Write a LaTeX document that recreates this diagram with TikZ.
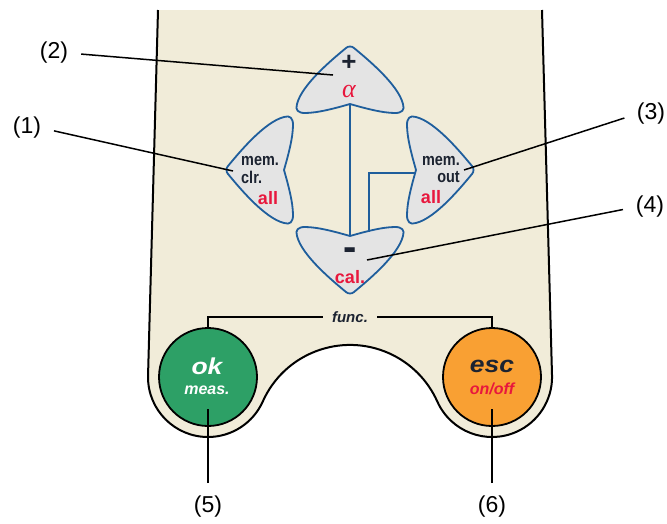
\documentclass[tikz,border=0pt]{standalone}
\usepackage{fontspec}
\setmainfont{Liberation Sans}
\newfontfamily\condfont[FakeStretch=0.85]{Liberation Sans}
\newfontfamily\widefont[FakeStretch=1.15]{Liberation Sans}
\newfontfamily\greekfont{Liberation Serif}

\definecolor{bodybeige}{HTML}{F1ECD9}
\definecolor{keygray}{HTML}{E4E4E4}
\definecolor{keyblue}{HTML}{1F5E9C}
\definecolor{keyink}{HTML}{1C2331}
\definecolor{keyred}{HTML}{E8173D}
\definecolor{okgreen}{HTML}{2DA066}
\definecolor{escorange}{HTML}{F9A033}

\tikzset{
  keycap/.pic={
    \draw[key] (0,66) .. controls (14,62) and (32,57) .. (45,57)
      .. controls (52,57) and (55,60) .. (53,66)
      .. controls (48,86) and (16,112) .. (4,122)
      .. controls (2,124) and (-2,124) .. (-4,122)
      .. controls (-16,112) and (-48,86) .. (-53,66)
      .. controls (-55,60) and (-52,57) .. (-45,57)
      .. controls (-32,57) and (-14,62) .. (0,66) -- cycle;
  }
}

\begin{document}
\begin{tikzpicture}[x=1pt, y=1pt,
    body/.style={draw=black, line width=2pt, fill=bodybeige},
    key/.style={draw=keyblue, line width=1.8pt, fill=keygray},
    wire/.style={draw=keyblue, line width=1.8pt},
    callout/.style={draw=black, line width=1.5pt, shorten <=13pt},
    thinline/.style={draw=black, line width=1.4pt},
    num/.style={font=\fontsize{23}{25}\selectfont, inner sep=0pt},
    btn/.style={circle, draw=black, line width=1.8pt, minimum size=98pt, inner sep=0pt},
    keytxt/.style={font=\condfont\bfseries\fontsize{17}{17}\selectfont, text=keyink, inner sep=0pt},
    redtxt/.style={font=\bfseries\fontsize{18}{18}\selectfont, text=keyred, inner sep=0pt}]
        \useasboundingbox (0,0) rectangle (667,-523);

        % Housing
        \draw[body] (158,-10) -- (148,-377)
            arc[start angle=180, end angle=335.9, radius=60]
            arc[start angle=155.9, end angle=24.1, radius=95.6]
            arc[start angle=204.1, end angle=360, radius=60] -- (542,-10);

        % Arrow keys
        \foreach \ang in {0,90,180,270}
            \pic[rotate=\ang] at (350,-170) {keycap};

        % Key wiring
        \coordinate (topbase) at (350,-104);
        \coordinate (botbase) at (350,-236);
        \coordinate (rightbase) at (415,-173);
        \coordinate (botjoint) at (369,-232);
        \draw[wire] (topbase) -- (botbase);
        \draw[wire] (rightbase) -| (botjoint);

        % Key texts
        \node[font=\bfseries\fontsize{26}{26}\selectfont, text=keyink, inner sep=0pt] (plus) at (349,-63) {+};
        \node[font=\greekfont\itshape\fontsize{26}{26}\selectfont, text=keyred, inner sep=0pt] (alpha) at (349,-91) {α};
        \node[keytxt, anchor=west] (mem1) at (241,-161) {mem.};
        \node[keytxt, anchor=west] (clr) at (241,-177) {clr.};
        \node[redtxt] (allleft) at (268,-198) {all};
        \node[keytxt, anchor=east] (mem2) at (460,-161) {mem.};
        \node[keytxt, anchor=east] (out) at (460,-177) {out};
        \node[redtxt] (allright) at (431,-197) {all};
        \node[font=\bfseries\fontsize{40}{40}\selectfont, text=keyink, inner sep=0pt] (minus) at (350,-254) {-};
        \node[redtxt] (cal) at (350,-277) {cal.};

        % Round buttons
        \node[btn, fill=okgreen] (ok) at (208,-377) {};
        \node[btn, fill=escorange] (esc) at (492,-377) {};
        \node[font=\widefont\bfseries\itshape\fontsize{23}{23}\selectfont, text=white, inner sep=0pt] (oktxt) at (207,-366) {ok};
        \node[font=\bfseries\itshape\fontsize{16}{16}\selectfont, text=white, inner sep=0pt] (meastxt) at (207,-390) {meas.};
        \node[font=\widefont\bfseries\itshape\fontsize{23}{23}\selectfont, text=keyink, inner sep=0pt] (esctxt) at (492,-366) {esc};
        \node[font=\bfseries\itshape\fontsize{16}{16}\selectfont, text=keyred, inner sep=0pt] (onofftxt) at (492,-389) {on/off};

        % func. bracket
        \node[font=\bfseries\itshape\fontsize{15}{15}\selectfont, text=keyink, inner xsep=9pt, inner ysep=0pt] (func) at (350,-317) {func.};
        \draw[thinline] (ok.north) |- (func.west);
        \draw[thinline] (esc.north) |- (func.east);

        % Callouts
        \coordinate (k1) at (233,-171);
        \coordinate (k2) at (333,-75);
        \coordinate (k3) at (464,-170);
        \coordinate (k4) at (367,-260);
        \coordinate (k5) at (208,-409);
        \coordinate (k6) at (492,-409);
        \node[num] (lbl1) at (27,-128) {(1)};
        \node[num] (lbl2) at (54,-53) {(2)};
        \node[num] (lbl3) at (651,-114) {(3)};
        \node[num] (lbl4) at (650,-207) {(4)};
        \node[num] (lbl5) at (208,-507) {(5)};
        \node[num] (lbl6) at (492,-507) {(6)};
        \draw[callout] (lbl1.east) -- (k1);
        \draw[callout] (lbl2.east) -- (k2);
        \draw[callout] (lbl3.west) -- (k3);
        \draw[callout] (lbl4.west) -- (k4);
        \draw[callout] (lbl5.north) -- (k5);
        \draw[callout] (lbl6.north) -- (k6);
\end{tikzpicture}
\end{document}
